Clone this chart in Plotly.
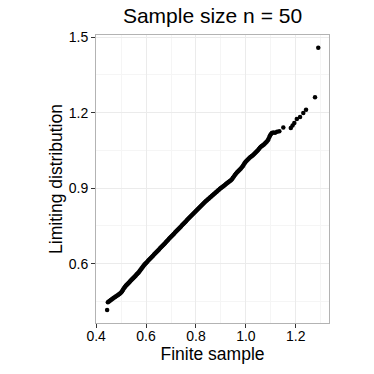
import plotly.graph_objects as go

# Sorted quantiles
finite_sample = [
    0.444, 0.447, 0.451, 0.455, 0.459, 0.463, 0.467, 0.471, 0.476, 0.480,
    0.485, 0.489, 0.493, 0.497, 0.501, 0.504, 0.507, 0.510, 0.513, 0.516,
    0.519, 0.522, 0.525, 0.528, 0.531, 0.534, 0.537, 0.540, 0.543, 0.546,
    0.549, 0.552, 0.555, 0.558, 0.561, 0.564, 0.567, 0.570, 0.573, 0.576,
    0.579, 0.582, 0.585, 0.588, 0.591, 0.594, 0.597, 0.600, 0.604, 0.608,
    0.612, 0.616, 0.620, 0.624, 0.628, 0.632, 0.636, 0.640, 0.644, 0.648,
    0.652, 0.656, 0.660, 0.664, 0.668, 0.672, 0.676, 0.680, 0.684, 0.688,
    0.692, 0.696, 0.700, 0.704, 0.708, 0.712, 0.716, 0.720, 0.724, 0.728,
    0.732, 0.736, 0.740, 0.744, 0.748, 0.752, 0.756, 0.760, 0.764, 0.768,
    0.772, 0.776, 0.780, 0.784, 0.788, 0.792, 0.796, 0.800, 0.804, 0.808,
    0.812, 0.816, 0.820, 0.824, 0.828, 0.832, 0.836, 0.840, 0.844, 0.848,
    0.852, 0.856, 0.860, 0.864, 0.868, 0.872, 0.876, 0.880, 0.884, 0.888,
    0.892, 0.896, 0.900, 0.904, 0.908, 0.912, 0.916, 0.920, 0.924, 0.928,
    0.932, 0.936, 0.940, 0.944, 0.948, 0.952, 0.956, 0.960, 0.964, 0.968,
    0.972, 0.976, 0.980, 0.984, 0.988, 0.991, 0.994, 0.997, 1.000, 1.004,
    1.008, 1.012, 1.016, 1.020, 1.024, 1.028, 1.032, 1.036, 1.040, 1.044,
    1.048, 1.052, 1.056, 1.060, 1.064, 1.068, 1.072, 1.076, 1.080, 1.084,
    1.088, 1.091, 1.094, 1.097, 1.100, 1.104, 1.110, 1.117, 1.125, 1.134,
    1.150, 1.180, 1.187, 1.194, 1.204, 1.217, 1.230, 1.241, 1.277, 1.290,
]
limiting = [
    0.416, 0.446, 0.449, 0.452, 0.455, 0.458, 0.461, 0.464, 0.467, 0.470,
    0.473, 0.476, 0.479, 0.482, 0.486, 0.490, 0.495, 0.500, 0.504, 0.508,
    0.512, 0.515, 0.518, 0.521, 0.524, 0.527, 0.531, 0.534, 0.537, 0.540,
    0.543, 0.546, 0.549, 0.552, 0.556, 0.559, 0.562, 0.565, 0.569, 0.573,
    0.577, 0.581, 0.585, 0.589, 0.593, 0.597, 0.600, 0.603, 0.607, 0.611,
    0.615, 0.619, 0.623, 0.627, 0.631, 0.636, 0.640, 0.644, 0.648, 0.652,
    0.656, 0.661, 0.665, 0.669, 0.673, 0.677, 0.681, 0.686, 0.690, 0.694,
    0.699, 0.703, 0.707, 0.711, 0.715, 0.719, 0.724, 0.728, 0.732, 0.736,
    0.740, 0.744, 0.748, 0.753, 0.757, 0.761, 0.765, 0.769, 0.773, 0.777,
    0.781, 0.785, 0.789, 0.793, 0.797, 0.801, 0.805, 0.809, 0.813, 0.817,
    0.821, 0.825, 0.829, 0.833, 0.837, 0.841, 0.845, 0.849, 0.852, 0.856,
    0.859, 0.863, 0.866, 0.870, 0.873, 0.877, 0.880, 0.884, 0.887, 0.891,
    0.894, 0.898, 0.901, 0.904, 0.907, 0.910, 0.913, 0.917, 0.920, 0.923,
    0.926, 0.929, 0.932, 0.936, 0.941, 0.946, 0.952, 0.957, 0.962, 0.966,
    0.970, 0.974, 0.978, 0.983, 0.988, 0.993, 0.998, 1.002, 1.006, 1.010,
    1.014, 1.018, 1.022, 1.025, 1.028, 1.031, 1.035, 1.039, 1.043, 1.047,
    1.051, 1.056, 1.061, 1.065, 1.068, 1.071, 1.074, 1.078, 1.082, 1.086,
    1.091, 1.097, 1.103, 1.109, 1.114, 1.119, 1.121, 1.120, 1.124, 1.126,
    1.141, 1.139, 1.149, 1.159, 1.175, 1.183, 1.199, 1.212, 1.262, 1.458,
]

x_ticks = [0.4, 0.6, 0.8, 1.0, 1.2]
y_ticks = [0.6, 0.9, 1.2, 1.5]

font = "Liberation Sans, Arial, sans-serif"

fig = go.Figure(go.Scatter(
    x=finite_sample, y=limiting, mode="markers",
    marker=dict(color="black", size=4.5, line=dict(width=0)),
))

axis_common = dict(
    showgrid=True, gridcolor="#ebebeb", gridwidth=1,
    showline=True, linecolor="#b3b3b3", linewidth=1, mirror=True,
    ticks="outside", ticklen=4, tickcolor="#333333", tickwidth=1,
    tickfont=dict(family=font, size=14, color="#000000"),
    zeroline=False, automargin=False,
)

# page body has an 8px margin, so the figure is 366 px and offset by 8
fig.update_layout(
    width=366, height=366,
    margin=dict(l=88, r=45, t=27, b=51, autoexpand=False),
    paper_bgcolor="white", plot_bgcolor="white",
    showlegend=False,
    title=dict(text="Sample size n = 50", x=0.5, xanchor="center",
               xref="paper", y=1, yref="container", yanchor="top",
               pad=dict(t=0, b=0),
               font=dict(family=font, size=21, color="black")),
    xaxis=dict(
        range=[0.3995, 1.333], tickvals=x_ticks,
        ticktext=[f"{v:.1f}" for v in x_ticks],
        ticklabelstandoff=-4,
        minor=dict(tickvals=[0.5, 0.7, 0.9, 1.1, 1.3], showgrid=True,
                   gridcolor="#f5f5f5", gridwidth=1, ticks=""),
        title=dict(text="Finite sample", standoff=0,
                   font=dict(family=font, size=17.5, color="black")),
        **axis_common,
    ),
    yaxis=dict(
        range=[0.364, 1.509], tickvals=y_ticks,
        ticktext=[f"{v:.1f}" for v in y_ticks],
        minor=dict(tickvals=[0.45, 0.75, 1.05, 1.35], showgrid=True,
                   gridcolor="#f5f5f5", gridwidth=1, ticks=""),
        title=dict(text="Limiting distribution", standoff=1,
                   font=dict(family=font, size=17.5, color="black")),
        **axis_common,
    ),
)

fig.write_html("out.html")
